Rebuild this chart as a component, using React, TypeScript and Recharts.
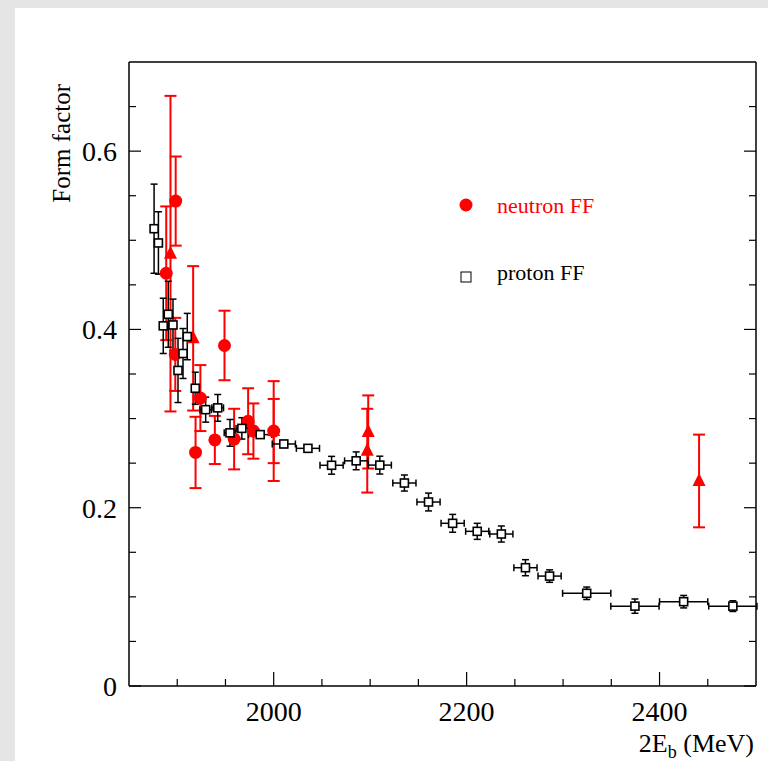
import React from 'react';
import { ScatterChart, Scatter, XAxis, YAxis, ErrorBar, Legend, Label } from 'recharts';

// proton FF (open squares), x error = bin half-width
const protonE = [1876, 1880.5, 1885.5, 1890.7, 1895.6, 1900.8, 1906, 1910.4, 1918.7, 1929.5, 1942, 1954.7, 1967, 1986, 2010.5, 2035.5, 2060, 2085.5, 2110, 2135.5, 2160.5, 2185.5, 2211, 2236, 2261, 2286, 2324.5, 2374.5, 2425, 2476];
const protonFF = [0.513, 0.497, 0.404, 0.417, 0.405, 0.354, 0.373, 0.392, 0.334, 0.31, 0.312, 0.284, 0.289, 0.282, 0.2715, 0.2666, 0.2476, 0.2526, 0.2478, 0.2277, 0.2064, 0.1825, 0.1735, 0.1705, 0.1327, 0.1233, 0.104, 0.0896, 0.0946, 0.0896];
const protonErr = [0.05, 0.035, 0.031, 0.037, 0.029, 0.036, 0.028, 0.026, 0.018, 0.014, 0.015, 0.015, 0.012, 0.004, 0.004, 0.004, 0.01, 0.01, 0.01, 0.009, 0.01, 0.01, 0.009, 0.009, 0.009, 0.007, 0.007, 0.008, 0.007, 0.006];
const protonErrE = [2, 2, 2, 2, 2, 2, 2, 2, 3, 6, 6, 6, 6, 12, 12, 12, 12, 12, 12, 12, 12, 12, 12, 12, 12, 12, 25, 25, 25, 25];

// neutron FF, circles
const nCircE = [1888.6, 1898.4, 1898, 1919, 1924, 1939, 1949, 1959, 1973.5, 1979, 2000];
const nCircFF = [0.463, 0.544, 0.372, 0.262, 0.323, 0.276, 0.382, 0.277, 0.297, 0.286, 0.286];
const nCircErr = [0.075, 0.05, 0.041, 0.04, 0.037, 0.027, 0.039, 0.034, 0.037, 0.031, 0.056];

// neutron FF, triangles
const nTriE = [1893, 1916.5, 2000, 2097, 2098, 2441];
const nTriFF = [0.485, 0.39, 0.286, 0.264, 0.285, 0.23];
const nTriErr = [0.177, 0.081, 0.036, 0.047, 0.041, 0.052];

const xTicks = [1900, 1950, 2000, 2050, 2100, 2150, 2200, 2250, 2300, 2350, 2400, 2450];
const xMajor = [2000, 2200, 2400];
const yTicks = [0, 0.05, 0.1, 0.15, 0.2, 0.25, 0.3, 0.35, 0.4, 0.45, 0.5, 0.55, 0.6, 0.65];

const protonData = protonE.map((e, i) => ({ e, ff: protonFF[i], dy: protonErr[i], dx: protonErrE[i] }));
const circData = nCircE.map((e, i) => ({ e, ff: nCircFF[i], dy: nCircErr[i] }));
const triData = nTriE.map((e, i) => ({ e, ff: nTriFF[i], dy: nTriErr[i] }));

const RED = '#ff0000';
const FONT = '"Liberation Serif", "Times New Roman", serif';

const isYMajor = (v: number) => Math.abs(v * 5 - Math.round(v * 5)) < 1e-6;

const BottomTick = (props: any) => {
  const { x, y, payload } = props;
  const major = xMajor.includes(payload.value);
  return (
    <g>
      <line x1={x} x2={x} y1={y} y2={y - (major ? 14 : 7)} stroke="#000" strokeWidth={1.2} />
      {major && (
        <text x={x} y={y + 35} textAnchor="middle" fontFamily={FONT} fontSize={28} fill="#000">
          {payload.value}
        </text>
      )}
    </g>
  );
};

const TopTick = (props: any) => {
  const { x, y, payload } = props;
  const major = xMajor.includes(payload.value);
  return <line x1={x} x2={x} y1={y} y2={y + (major ? 14 : 7)} stroke="#000" strokeWidth={1.2} />;
};

const LeftTick = (props: any) => {
  const { x, y, payload } = props;
  const v = payload.value;
  const major = isYMajor(v);
  return (
    <g>
      <line x1={x} x2={x + (major ? 12 : 7)} y1={y} y2={y} stroke="#000" strokeWidth={1.2} />
      {major && (
        <text x={x - 12} y={y} dy="0.35em" textAnchor="end" fontFamily={FONT} fontSize={28} fill="#000">
          {v === 0 ? '0' : v.toFixed(1)}
        </text>
      )}
    </g>
  );
};

const RightTick = (props: any) => {
  const { x, y, payload } = props;
  const major = isYMajor(payload.value);
  return <line x1={x} x2={x - (major ? 12 : 7)} y1={y} y2={y} stroke="#000" strokeWidth={1.2} />;
};

const LegendBox = () => (
  <svg width={200} height={120} style={{ display: 'block' }}>
    <circle cx={26} cy={25} r={6.5} fill={RED} />
    <text x={57} y={33} fontFamily={FONT} fontSize={22} fill={RED}>neutron FF</text>
    <rect x={21} y={92} width={10} height={10} fill="#fff" stroke="#000" strokeWidth={1} />
    <text x={57} y={100} fontFamily={FONT} fontSize={22} fill="#000">proton FF</text>
  </svg>
);

const square = (p: any) => (
  <rect x={p.cx - 4} y={p.cy - 4} width={8} height={8} fill="#fff" stroke="#000" strokeWidth={1.6} />
);
const dot = (p: any) => <circle cx={p.cx} cy={p.cy} r={6.5} fill={RED} />;
const triangle = (p: any) => (
  <polygon points={`${p.cx},${p.cy - 8} ${p.cx - 6.5},${p.cy + 5} ${p.cx + 6.5},${p.cy + 5}`} fill={RED} />
);

export default function App() {
  return (
    <div style={{ position: 'absolute', left: 0, top: 0, width: 768, height: 761, background: '#e5e5e5' }}>
      <div style={{ position: 'absolute', left: 15, top: 8, width: 753, height: 753, background: '#fff' }} />
      <div style={{ position: 'absolute', left: 0, top: 0 }}>
        <ScatterChart width={768} height={761} margin={{ top: 0, right: 0, bottom: 0, left: 0 }}>
          <XAxis
            xAxisId="b"
            type="number"
            dataKey="e"
            domain={[1850, 2500]}
            ticks={xTicks}
            interval={0}
            height={75}
            tickSize={0}
            tickMargin={0}
            tick={<BottomTick />}
            axisLine={{ stroke: '#000', strokeWidth: 1.5 }}
            allowDataOverflow
          >
            <Label
              content={({ viewBox }: any) => (
                <text x={viewBox.x + viewBox.width - 2} y={viewBox.y + 66} textAnchor="end" fontFamily={FONT} fontSize={26} fill="#000">
                  2E<tspan dy={6} fontSize={18}>b</tspan><tspan dy={-6}> (MeV)</tspan>
                </text>
              )}
            />
          </XAxis>
          <XAxis
            xAxisId="t"
            orientation="top"
            type="number"
            domain={[1850, 2500]}
            ticks={xTicks}
            interval={0}
            height={62}
            tickSize={0}
            tickMargin={0}
            tick={<TopTick />}
            axisLine={{ stroke: '#000', strokeWidth: 1.5 }}
            allowDataOverflow
          />
          <YAxis
            yAxisId="l"
            type="number"
            dataKey="ff"
            domain={[0, 0.7]}
            ticks={yTicks}
            interval={0}
            width={129}
            tickSize={0}
            tickMargin={0}
            tick={<LeftTick />}
            axisLine={{ stroke: '#000', strokeWidth: 1.5 }}
            allowDataOverflow
          >
            <Label
              content={({ viewBox }: any) => (
                <text
                  transform={`translate(${viewBox.x + 70}, ${viewBox.y + 22}) rotate(-90)`}
                  textAnchor="end"
                  fontFamily={FONT}
                  fontSize={25}
                  fill="#000"
                >
                  Form factor
                </text>
              )}
            />
          </YAxis>
          <YAxis
            yAxisId="r"
            orientation="right"
            type="number"
            domain={[0, 0.7]}
            ticks={yTicks}
            interval={0}
            width={12}
            tickSize={0}
            tickMargin={0}
            tick={<RightTick />}
            axisLine={{ stroke: '#000', strokeWidth: 1.5 }}
            allowDataOverflow
          />
          <Legend
            verticalAlign="middle"
            align="center"
            content={() => <LegendBox />}
            wrapperStyle={{ position: 'absolute', left: 440, top: 180, width: 200, height: 120 }}
          />
          <Scatter name="neutron FF" data={circData} xAxisId="b" yAxisId="l" shape={dot} isAnimationActive={false}>
            <ErrorBar dataKey="dy" direction="y" width={6} stroke={RED} strokeWidth={2} />
          </Scatter>
          <Scatter name="neutron FF" data={triData} xAxisId="b" yAxisId="l" shape={triangle} isAnimationActive={false}>
            <ErrorBar dataKey="dy" direction="y" width={6} stroke={RED} strokeWidth={2} />
          </Scatter>
          <Scatter name="proton FF" data={protonData} xAxisId="b" yAxisId="l" shape={square} isAnimationActive={false}>
            <ErrorBar dataKey="dy" direction="y" width={3.5} stroke="#000" strokeWidth={1.5} />
            <ErrorBar dataKey="dx" direction="x" width={3.5} stroke="#000" strokeWidth={1.5} />
          </Scatter>
        </ScatterChart>
      </div>
    </div>
  );
}
